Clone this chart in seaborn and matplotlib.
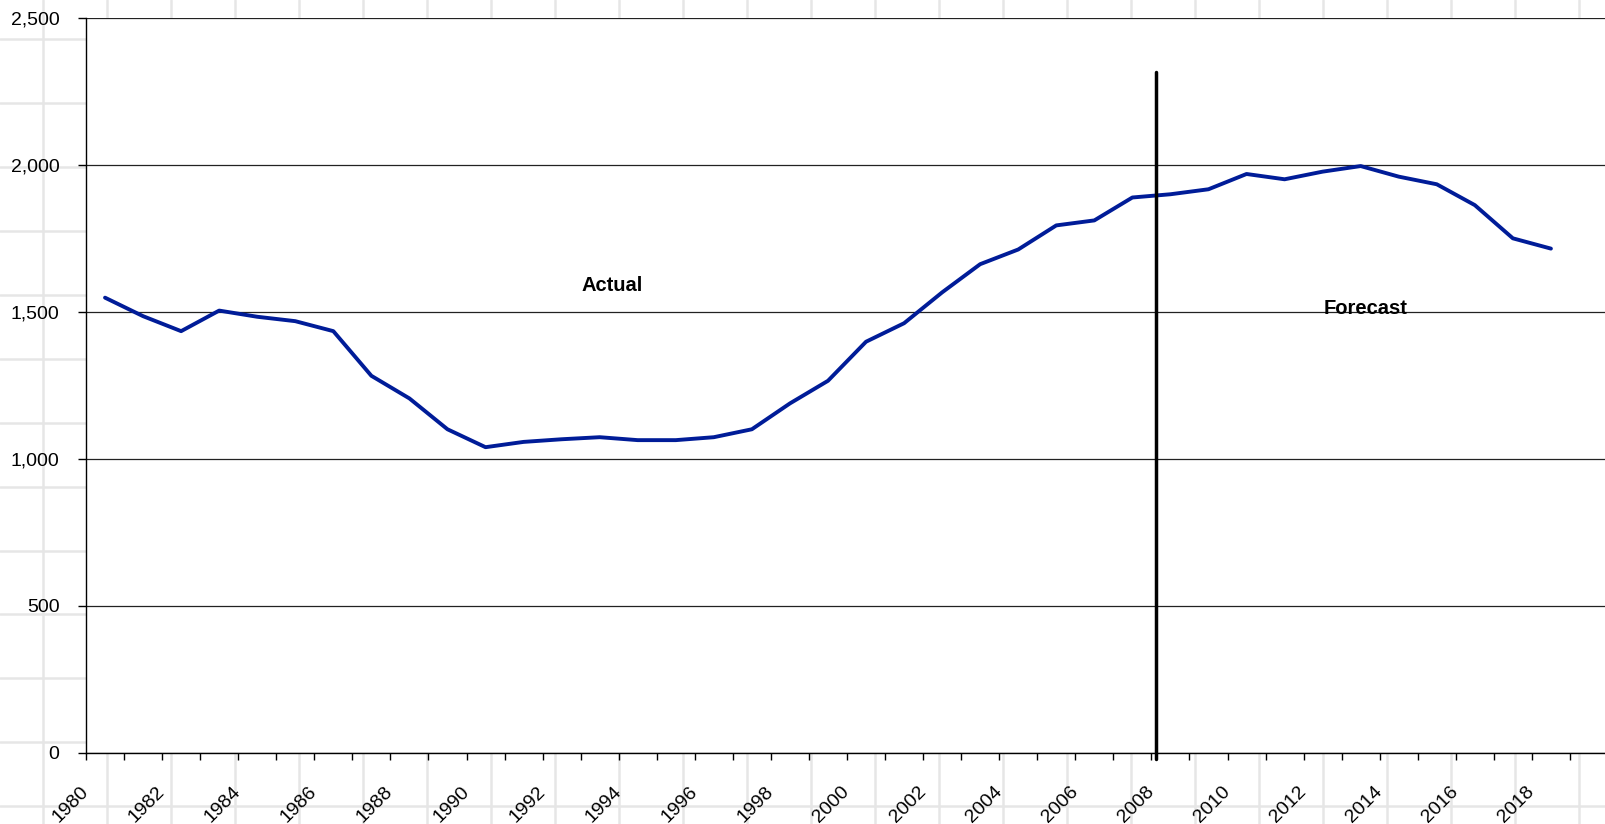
import numpy as np
import pandas as pd
import matplotlib
matplotlib.use("Agg")
import matplotlib.pyplot as plt
from matplotlib.lines import Line2D
from matplotlib.transforms import ScaledTranslation
from matplotlib.ticker import FuncFormatter, FixedLocator
import seaborn as sns

# data
years = list(range(1980, 2019))
values = [1549, 1486, 1435, 1505, 1484, 1469, 1435, 1283, 1206, 1101,
          1040, 1058, 1067, 1074, 1064, 1064, 1074, 1101, 1189, 1266,
          1399, 1462, 1567, 1663, 1713, 1795, 1812, 1890, 1901, 1918,
          1970, 1952, 1978, 1997, 1961, 1935, 1864, 1751, 1716]
label_years = [str(y) for y in range(1980, 2019, 2)]
y_ticks = [0, 500, 1000, 1500, 2000, 2500]

df = pd.DataFrame({"year": years, "value": values})
df["pos"] = np.arange(len(df))

sns.set_style("white")
plt.rcParams["font.family"] = ["Liberation Sans", "DejaVu Sans"]
plt.rcParams["text.color"] = "black"
plt.rcParams["xtick.labelcolor"] = "black"
plt.rcParams["ytick.labelcolor"] = "black"

W, H = 1605, 824
fig = plt.figure(figsize=(W / 100, H / 100), dpi=100)
fig.patch.set_facecolor("white")

# spreadsheet cell grid behind the chart
for x in np.arange(42.7, W, 64.0):
    fig.add_artist(Line2D([x / W, x / W], [0, 1], color="#e6e6e6", lw=1.8,
                          transform=fig.transFigure, zorder=0))
for y in np.arange(39.0, H, 63.94):
    fig.add_artist(Line2D([0, 1], [1 - y / H, 1 - y / H], color="#e6e6e6", lw=1.8,
                          transform=fig.transFigure, zorder=0))

left, bottom, top = 86, 752.7, 18.3
ax = fig.add_axes([left / W, (H - bottom) / H, (W - left) / W, (bottom - top) / H])
ax.set_facecolor("white")
ax.set_zorder(1)

sns.lineplot(data=df, x="pos", y="value", ax=ax, color="#001c98", lw=2.8)

spacing = 38.05
ax.set_xlim(-0.5, -0.5 + (W - left) / spacing)
ax.set_ylim(0, 2500)

# y axis
ax.set_yticks(y_ticks)
ax.yaxis.set_major_formatter(FuncFormatter(lambda v, p: f"{int(v):,}"))
ax.tick_params(axis="y", length=6, width=1, color="black", pad=13,
               labelsize=14, left=True, direction="out", labelcolor="black")
ax.grid(axis="y", color="#222222", lw=0.9)
ax.grid(axis="x", visible=False)

# x axis: labels at every second category, ticks at category boundaries
ax.set_xticks(np.arange(0, len(years), 2))
ax.set_xticklabels(label_years, rotation=45, ha="right", va="top",
                   rotation_mode="anchor")
ax.xaxis.set_minor_locator(FixedLocator(np.arange(-0.5, 40, 1)))
ax.tick_params(axis="x", which="major", length=0, pad=22, labelsize=14,
               labelcolor="black")
ax.tick_params(axis="x", which="minor", length=5, width=1, color="black",
               bottom=True, direction="out")
for lab in ax.get_xticklabels():
    lab.set_transform(lab.get_transform() + ScaledTranslation(-0.25, 0, fig.dpi_scale_trans))

ax.set_xlabel("")
ax.set_ylabel("")
for s in ["top", "right"]:
    ax.spines[s].set_visible(False)
for s in ["left", "bottom"]:
    ax.spines[s].set_color("black")
    ax.spines[s].set_linewidth(1)

# actual / forecast divider
ax.axvline(27.62, ymin=-0.0086, ymax=0.927, color="black", lw=2.5, clip_on=False)
ax.text(13.32, 1589, "Actual", ha="center", va="center", fontsize=14.5,
        fontweight="bold", color="black")
ax.text(33.14, 1513, "Forecast", ha="center", va="center", fontsize=14.5,
        fontweight="bold", color="black")

fig.savefig("out.png", dpi=100)
